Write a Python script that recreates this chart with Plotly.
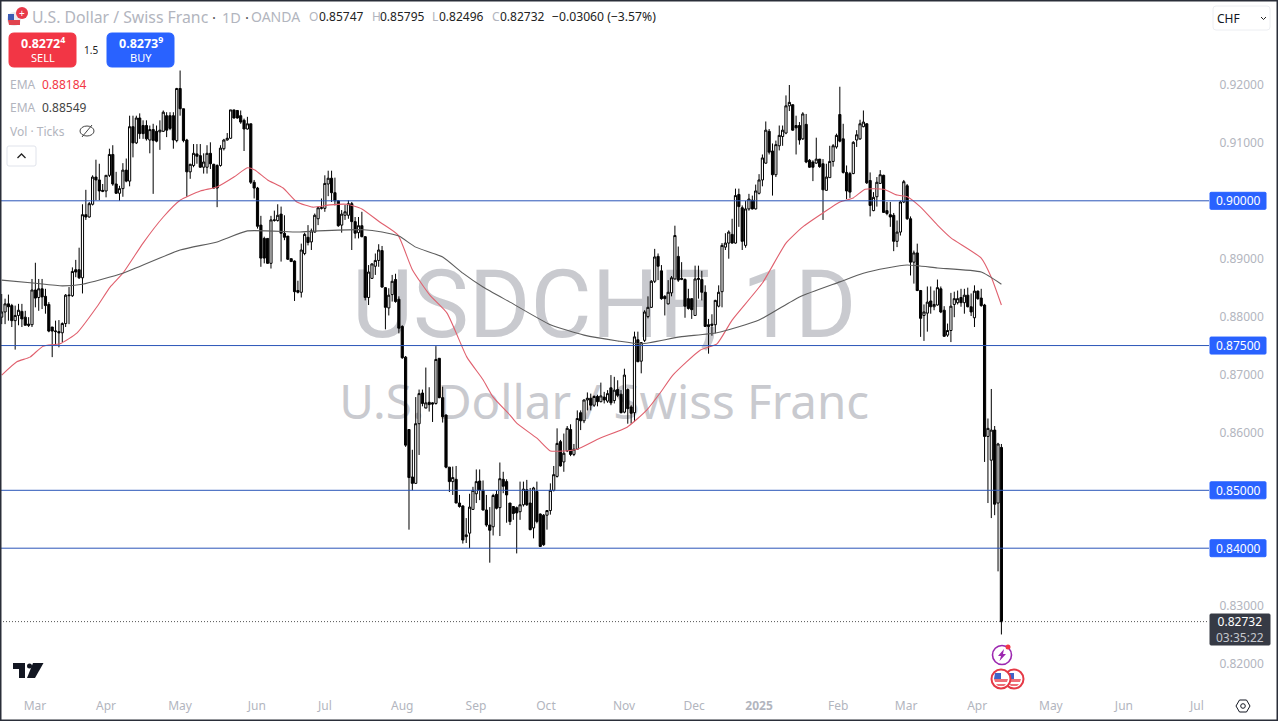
import plotly.graph_objects as go

# Daily candles, prices in pips (1/10000)
open_pips = [
8799,8808,8822,8819,8793,8802,8809,8799,8787,8786,
8846,8833,8848,8835,8821,8782,8774,8774,8772,8788,
8836,8836,8881,8881,8867,8976,8972,8994,9041,9036,
9016,9017,9044,9080,9029,9013,9021,9053,9034,9128,
9100,9143,9130,9130,9105,9123,9120,9119,9120,9147,
9147,9147,9104,9194,9159,9105,9050,9061,9081,9078,
9058,9058,9082,9063,9061,9061,9090,9105,9108,9157,
9156,9147,9139,9124,9133,9032,9022,8958,8935,8935,
8892,8966,8966,8977,8944,8939,8900,8896,8845,8842,
8909,8937,8929,8946,8969,8987,8987,9029,9039,9014,
9000,8958,8975,8975,8995,8964,8945,8957,8938,8833,
8866,8887,8897,8914,8850,8815,8838,8864,8830,8783,
8730,8605,8523,8512,8615,8668,8642,8652,8651,8650,
8728,8660,8630,8540,8515,8519,8478,8473,8420,8426,
8467,8494,8516,8500,8466,8440,8437,8493,8470,8519,
8515,8478,8472,8470,8463,8475,8501,8478,8435,8498,
8459,8457,8457,8465,8500,8524,8584,8549,8568,8605,
8562,8571,8634,8620,8656,8659,8647,8662,8653,8661,
8654,8677,8655,8674,8666,8635,8674,8644,8634,8760,
8723,8759,8800,8816,8861,8904,8879,8835,8822,8841,
8865,8904,8864,8864,8831,8831,8802,8864,8864,8842,
8786,8787,8786,8818,8843,8920,8927,8942,8927,9011,
8988,8923,8986,9001,8986,9013,9036,9065,9120,9086,
9045,9095,9111,9117,9164,9166,9130,9130,9107,9132,
9070,9067,9065,9072,9064,9018,9040,9068,9093,9149,
9107,9049,9047,9047,9105,9107,9128,9133,9035,8983,
9007,9030,9044,8983,8976,8975,8930,8946,8998,9026,
8969,8894,8910,8845,8802,8806,8827,8817,8820,8848,
8811,8768,8776,8821,8824,8833,8824,8837,8817,8798,
8844,8832,8820,8593,8552,8604,8478,8574]
close_pips = [
8808,8822,8817,8793,8802,8811,8796,8785,8785,8846,
8832,8848,8834,8819,8775,8775,8775,8772,8788,8837,
8837,8878,8877,8867,8976,8972,8995,9041,9036,9017,
9018,9044,9080,9029,9013,9021,9053,9034,9128,9100,
9143,9116,9116,9107,9123,9104,9103,9122,9153,9122,
9125,9105,9194,9159,9104,9050,9063,9082,9077,9058,
9067,9082,9064,9022,9022,9091,9105,9108,9157,9143,
9143,9136,9124,9133,9032,9022,8956,8901,8901,8892,
8967,8967,8975,8944,8937,8899,8895,8843,8842,8915,
8942,8928,8948,8975,8988,8988,9030,9039,9014,9000,
8957,8977,8981,8995,8964,8944,8957,8938,8833,8877,
8891,8897,8915,8851,8816,8837,8861,8826,8780,8729,
8578,8522,8512,8615,8667,8650,8651,8648,8649,8726,
8660,8627,8540,8515,8522,8478,8472,8414,8423,8471,
8500,8515,8500,8466,8440,8431,8491,8469,8520,8507,
8492,8446,8460,8461,8475,8502,8475,8432,8504,8446,
8403,8406,8465,8500,8527,8581,8542,8564,8607,8562,
8571,8624,8620,8656,8659,8647,8662,8653,8663,8656,
8667,8651,8673,8664,8634,8699,8641,8633,8765,8722,
8755,8808,8816,8861,8903,8887,8831,8831,8842,8867,
8940,8863,8866,8818,8814,8812,8865,8866,8842,8783,
8783,8785,8828,8842,8923,8927,8946,8927,9009,8990,
8930,8986,9003,8986,9017,9036,9074,9122,9084,9045,
9097,9113,9122,9164,9170,9122,9126,9105,9150,9067,
9058,9058,9072,9059,9019,9041,9068,9095,9113,9103,
9049,9017,9015,9101,9114,9133,9136,9031,8992,9006,
9032,9045,8980,8978,8972,8930,8946,8998,9033,8969,
8894,8910,8845,8797,8808,8825,8817,8821,8850,8808,
8766,8776,8818,8831,8831,8824,8837,8817,8808,8844,
8831,8819,8593,8607,8604,8476,8580,8273]
high_pips = [
8839,8831,8838,8822,8819,8822,8822,8810,8799,8865,
8893,8865,8865,8848,8825,8782,8793,8794,8790,8839,
8851,8885,8898,8919,8994,9019,8998,9044,9071,9064,
9029,9044,9090,9096,9050,9026,9065,9073,9147,9147,
9147,9151,9139,9139,9130,9133,9130,9139,9156,9153,
9153,9153,9195,9225,9159,9107,9064,9098,9098,9098,
9082,9096,9101,9064,9063,9096,9107,9117,9157,9157,
9156,9156,9142,9145,9133,9036,9024,8974,8938,8935,
8974,8983,8994,8990,8975,8939,8900,8897,8862,8926,
8945,8958,8952,8978,8990,9004,9044,9052,9052,9040,
9001,8984,8993,9001,8998,8972,8972,8981,8939,8889,
8892,8909,8925,8922,8851,8849,8872,8874,8835,8785,
8732,8605,8570,8661,8674,8674,8712,8678,8652,8749,
8728,8679,8631,8540,8541,8542,8492,8474,8452,8494,
8506,8536,8536,8517,8492,8471,8494,8500,8548,8532,
8519,8478,8472,8472,8515,8515,8518,8504,8506,8515,
8460,8459,8465,8512,8542,8607,8587,8598,8611,8614,
8580,8638,8638,8657,8669,8667,8664,8665,8686,8670,
8673,8699,8696,8690,8673,8710,8676,8647,8774,8774,
8756,8811,8835,8863,8917,8909,8889,8837,8863,8870,
8957,8921,8894,8866,8848,8831,8888,8888,8879,8854,
8796,8804,8829,8854,8927,8944,8949,8969,9021,9021,
8992,9000,9012,9009,9028,9046,9080,9137,9124,9099,
9104,9130,9130,9182,9200,9166,9147,9136,9153,9150,
9072,9070,9109,9072,9072,9064,9095,9098,9116,9197,
9133,9061,9050,9103,9122,9140,9156,9134,9049,9015,
9041,9053,9045,8998,8998,8979,8966,9000,9036,9029,
8973,8914,8926,8846,8821,8852,8852,8845,8864,8852,
8818,8788,8841,8843,8845,8848,8848,8850,8840,8854,
8845,8848,8822,8624,8675,8611,8582,8580]
low_pips = [
8787,8787,8793,8782,8743,8785,8782,8785,8782,8782,
8816,8810,8813,8805,8773,8730,8750,8747,8756,8782,
8787,8834,8868,8865,8840,8967,8971,8992,9001,9001,
9015,9006,9041,9026,9012,9000,9007,9032,9025,9075,
9098,9107,9107,9104,9082,9012,9101,9088,9119,9110,
9122,9090,9101,9147,9101,9007,9038,9058,9064,9057,
9047,9047,9055,9021,8989,9059,9087,9104,9107,9142,
9142,9133,9086,9123,9029,9004,8952,8886,8892,8891,
8883,8964,8964,8895,8932,8898,8895,8827,8840,8833,
8906,8923,8915,8945,8958,8985,8981,9008,8998,8992,
8955,8945,8967,8969,8915,8935,8935,8937,8828,8820,
8865,8872,8886,8850,8778,8802,8826,8824,8771,8727,
8575,8432,8500,8511,8561,8645,8643,8636,8618,8648,
8659,8617,8538,8497,8492,8478,8470,8408,8409,8400,
8466,8478,8483,8465,8437,8375,8422,8467,8421,8495,
8444,8440,8449,8391,8449,8472,8473,8431,8417,8443,
8402,8404,8432,8458,8498,8522,8541,8532,8566,8559,
8559,8570,8604,8616,8638,8638,8644,8645,8652,8650,
8651,8647,8650,8661,8633,8633,8615,8615,8618,8722,
8702,8756,8797,8815,8858,8863,8829,8802,8821,8835,
8864,8860,8863,8798,8812,8796,8802,8831,8828,8782,
8736,8767,8771,8816,8816,8915,8900,8926,8926,8955,
8915,8919,8983,8985,8985,9011,9025,9064,9080,9009,
9041,9087,9095,9115,9155,9121,9080,9097,9105,9065,
9057,9034,9064,9057,8967,9018,9040,9059,9090,9101,
9047,9003,9005,9046,9093,9105,9127,9029,8973,8982,
8990,9029,8979,8975,8955,8913,8920,8940,8996,8967,
8871,8857,8844,8765,8758,8774,8805,8811,8819,8806,
8765,8765,8756,8799,8821,8817,8805,8816,8801,8782,
8829,8817,8549,8478,8452,8457,8360,8251]

ema_fast_bars = [0,4.5,8.4,12.3,17.3,22.4,28.3,32.2,36,42,48,53,59,64,69,73,75.2,79,83.6,87.7,92.5,97.5,102.6,107,112.4,117.7,122,127.2,132.3,138.2,143,146,151,153,159,163,167,171,177.7,185.8,191.7,195.6,199.4,207.5,212.5,217,226,233,238,244,249,253,256.5,262,266,269,273,278,282,291,294,297]
ema_fast_pips = [8699,8722,8730,8749,8753,8772,8817,8851,8875,8927,8972,9001,9017,9024,9041,9057,9053,9036,9022,8998,8989,8993,8994,8986,8963,8941,8881,8837,8806,8730,8691,8661,8630,8616,8590,8568,8568,8571,8590,8609,8639,8668,8699,8742,8753,8794,8858,8927,8955,8979,8998,9005,9020,9020,9010,9007,8989,8958,8936,8901,8868,8820]
ema_slow_bars = [0,9.3,18,24,36,53,64,73,88,94,107.5,113,118,123,131,137,143,151,163,173,183,190,201.5,212.5,225,237,249,256,263,269,278,291,297]
ema_slow_pips = [8863,8858,8853,8856,8875,8915,8929,8948,8946,8948,8950,8946,8939,8920,8903,8875,8851,8825,8786,8768,8758,8753,8765,8772,8794,8834,8860,8875,8884,8889,8884,8877,8856]

price_ticks = [0.82,0.83,0.86,0.87,0.88,0.89,0.91,0.92]
level_lines = [0.90,0.875,0.85,0.84]
last_price = 0.82732
month_bars = [9.9,31,53,75.8,96,119,140.9,161.7,184.9,205.7,225,248.5,268.7,289.8,311.7,333.4,355.1]
month_labels = ["Mar","Apr","May","Jun","Jul","Aug","Sep","Oct","Nov","Dec","<b>2025</b>","Feb","Mar","Apr","May","Jun","Jul"]

assert len(open_pips) == len(close_pips) == len(high_pips) == len(low_pips) == 298, (len(open_pips), len(close_pips), len(high_pips), len(low_pips))

PW, PH = 1209, 692
X = lambda px: px / PW
Y = lambda py: 1 - py / PH
bars = list(range(len(open_pips)))
xr = [(0 - 1.7) / 3.366, (PW - 1.7) / 3.366]
yr = [0.82 - (PH - 664) * 0.00017271, 0.92 + 85 * 0.00017271]
FONT = "Noto Sans"
GREY = "#b2b5be"
BLUE = "#2962ff"
RED = "#f23645"

def p(v):
    return [a / 10000 for a in v]

fig = go.Figure()
# Watermark on the base axes, below the candles
fig.add_trace(go.Scatter(x=[179, 179], y=[0.8806, 0.8644], mode="text",
    text=["USDCHF, 1D", "U.S. Dollar / Swiss Franc"], textposition="middle center",
    textfont=dict(family=["Roboto", FONT], size=[94, 47.5], color="#c9cacf"),
    xaxis="x2", yaxis="y2", hoverinfo="skip", showlegend=False))
fig.add_trace(go.Candlestick(x=bars, open=p(open_pips), high=p(high_pips), low=p(low_pips), close=p(close_pips),
    increasing=dict(line=dict(color="#000000", width=1), fillcolor="#ffffff"),
    decreasing=dict(line=dict(color="#000000", width=1), fillcolor="#000000"),
    whiskerwidth=0, hoverinfo="skip", showlegend=False))
fig.add_trace(go.Scatter(x=ema_fast_bars, y=p(ema_fast_pips), mode="lines",
    line=dict(color="#e0606e", width=1.1, shape="spline", smoothing=0.5), hoverinfo="skip", showlegend=False))
fig.add_trace(go.Scatter(x=ema_slow_bars, y=p(ema_slow_pips), mode="lines",
    line=dict(color="#5d5d5d", width=1.1, shape="spline", smoothing=0.5), hoverinfo="skip", showlegend=False))

shapes, ann = [], []

def text(x, y, s, size=12, color="#000000", anchor="left", family=FONT):
    # annotations carry about 2px of inner padding on their anchored side
    ann.append(dict(x=X(x - 2 if anchor == "left" else x), y=Y(y), xref="paper", yref="paper", text=s, showarrow=False,
                    xanchor=anchor, yanchor="middle", align=anchor,
                    font=dict(family=family, size=size, color=color)))

def rrect(x0, y0, x1, y1, r, fill, line=None):
    d = (f"M{X(x0+r)},{Y(y0)} L{X(x1-r)},{Y(y0)} Q{X(x1)},{Y(y0)} {X(x1)},{Y(y0+r)} "
         f"L{X(x1)},{Y(y1-r)} Q{X(x1)},{Y(y1)} {X(x1-r)},{Y(y1)} L{X(x0+r)},{Y(y1)} "
         f"Q{X(x0)},{Y(y1)} {X(x0)},{Y(y1-r)} L{X(x0)},{Y(y0+r)} Q{X(x0)},{Y(y0)} {X(x0+r)},{Y(y0)} Z")
    shapes.append(dict(type="path", path=d, xref="paper", yref="paper", fillcolor=fill,
                       line=dict(color=line or fill, width=1)))

def circle(cx, cy, r, fill="rgba(0,0,0,0)", line=None, width=1.5):
    shapes.append(dict(type="circle", xref="paper", yref="paper", x0=X(cx-r), x1=X(cx+r), y0=Y(cy+r), y1=Y(cy-r),
                       fillcolor=fill, line=dict(color=line or fill, width=width)))

def poly(pts, fill, line=None, width=0):
    d = "M" + " L".join(f"{X(a)},{Y(b)}" for a, b in pts) + " Z"
    shapes.append(dict(type="path", path=d, xref="paper", yref="paper", fillcolor=fill,
                       line=dict(color=line or fill, width=width)))

# Horizontal levels
for lv in level_lines:
    shapes.append(dict(type="line", xref="paper", yref="y", x0=0, x1=1, y0=lv, y1=lv, line=dict(color="#2a55b8", width=1)))
    yy = 85 + (0.92 - lv) / 0.00017271
    rrect(1210, yy - 8.5, 1266, yy + 8.5, 1, BLUE)
    text(1238.5, yy, f"{lv:.5f}", 12, "#ffffff", "center")
shapes.append(dict(type="line", xref="paper", yref="y", x0=0, x1=1, y0=last_price, y1=last_price,
                   line=dict(color="#555555", width=1, dash="1px,2px")))

# Last price badge
rrect(1210, 614, 1270, 645, 1, "#363a45")
text(1240, 629.5, f"{last_price:.5f}<br><span style='color:#c4c6cc'>03:35:22</span>", 12, "#ffffff", "center")

# Header
circle(14, 19, 7, "#e9e9ee", "#e9e9ee", 0)
poly([(8, 20), (20, 20), (20, 25), (9, 25)], "#e0444f")
poly([(8, 14), (14, 14), (14, 20), (8, 20)], "#3b5bb5")
circle(22, 13, 6, "#e8394a", "#e8394a", 0)
text(22, 13, "+", 10, "#ffffff", "center")
text(32, 17, "U.S. Dollar / Swiss Franc", 15.8, GREY)
text(212, 17, "·", 15, "#555555")
text(222, 17, "1D", 14.5, GREY)
text(245, 17, "·", 15, "#555555")
text(251, 17, "OANDA", 14, GREY)
for lx, lab, vx, val in [(309, "O", 319, "0.85747"), (372, "H", 380, "0.85795"), (432, "L", 439, "0.82496"), (492, "C", 500, "0.82732")]:
    text(lx, 17, lab, 12, GREY)
    text(vx, 17, val, 12, "#222222")
text(552, 17, "−0.03060 (−3.57%)", 12.2, "#222222")

# Buy / sell
rrect(9, 33, 76, 67, 5, RED)
text(42.5, 43, "<b>0.8272<sup>4</sup></b>", 12.5, "#ffffff", "center")
text(42.5, 58, "SELL", 11, "#ffffff", "center")
text(91, 50, "1.5", 10, "#222222", "center")
rrect(107, 33, 174, 67, 5, BLUE)
text(140.5, 43, "<b>0.8273<sup>9</sup></b>", 12.5, "#ffffff", "center")
text(140.5, 58, "BUY", 11, "#ffffff", "center")

# Indicator legend
text(10, 84, "EMA", 12, GREY)
text(42, 84, "0.88184", 12, RED)
text(10, 107, "EMA", 12, GREY)
text(42, 107, "0.88549", 12, "#444444")
text(10, 131, "Vol · Ticks", 12, GREY)
shapes.append(dict(type="circle", xref="paper", yref="paper", x0=X(80), x1=X(94), y0=Y(136), y1=Y(126),
                   fillcolor="rgba(0,0,0,0)", line=dict(color="#444444", width=1)))
shapes.append(dict(type="line", xref="paper", yref="paper", x0=X(82), x1=X(92), y0=Y(137), y1=Y(125), line=dict(color="#444444", width=1)))
rrect(7, 146, 36, 166, 2, "#ffffff", "#e0e3eb")
shapes.append(dict(type="path", xref="paper", yref="paper",
                   path=f"M{X(17.5)},{Y(158)} L{X(21.5)},{Y(154)} L{X(25.5)},{Y(158)}", line=dict(color="#222222", width=1.3)))

# Currency selector
rrect(1213, 6, 1270, 30, 3, "#ffffff", "#eceef2")
text(1217, 18, "CHF", 12, "#131722")
shapes.append(dict(type="path", xref="paper", yref="paper",
                   path=f"M{X(1261)},{Y(17)} L{X(1263.5)},{Y(19.5)} L{X(1266)},{Y(17)}", line=dict(color="#222222", width=1)))

# TradingView logo
poly([(13, 663), (25, 663), (25, 678), (19, 678), (19, 669), (13, 669)], "#131722")
circle(29.5, 666, 2.5, "#131722", "#131722", 0)
poly([(33, 663), (43.5, 663), (35, 678), (27, 678)], "#131722")

# Event icons
circle(1002, 655, 9.5, "rgba(0,0,0,0)", "#9c27b0", 1.6)
poly([(1004, 649), (998, 656), (1001, 656), (999.5, 661), (1006, 654), (1003, 654)], "#9c27b0")
circle(1008, 647, 2.5, RED, RED, 0)
for cx in (1014, 1001):
    circle(cx, 679, 9.5, "#ffffff", "#e53946", 2)
    poly([(cx-7, 679), (cx+7, 679), (cx+6, 682), (cx-6, 682)], "#ef6e78")
    poly([(cx-5, 684), (cx+5, 684), (cx+3, 686), (cx-3, 686)], "#ef6e78")
    poly([(cx-6, 673), (cx, 673), (cx, 679), (cx-7, 679)], "#3f63c8")

# Settings icon
poly([(1236, 706), (1239.5, 700), (1246.5, 700), (1250, 706), (1246.5, 712), (1239.5, 712)], "#ffffff", "#131722", 1)
circle(1243, 706, 2.3, "#ffffff", "#131722", 1)

# Outer frame
shapes.append(dict(type="rect", xref="paper", yref="paper", x0=0, x1=1278/PW, y0=Y(721), y1=1,
                   fillcolor="rgba(0,0,0,0)", line=dict(color="#2a2e39", width=3)))

fig.update_layout(
    width=1278, height=721, autosize=False,
    margin=dict(l=0, r=1278 - PW, t=0, b=721 - PH, pad=0),
    paper_bgcolor="#ffffff", plot_bgcolor="rgba(0,0,0,0)", boxgap=0.08,
    showlegend=False, shapes=shapes, annotations=ann, hovermode=False,
    font=dict(family=FONT),
    xaxis=dict(overlaying="x2", range=xr, rangeslider=dict(visible=False), showgrid=False, zeroline=False, showline=False,
               tickmode="array", tickvals=month_bars, ticktext=month_labels,
               tickfont=dict(family=FONT, size=12, color=GREY), ticks="outside", ticklen=3, tickcolor="rgba(0,0,0,0)"),
    yaxis=dict(overlaying="y2", side="right", range=yr, showgrid=False, zeroline=False, showline=False,
               tickmode="array", tickvals=price_ticks, ticktext=[f"{v:.5f}" for v in price_ticks],
               tickfont=dict(family=FONT, size=12, color=GREY), ticks="outside", ticklen=7, tickcolor="rgba(0,0,0,0)"),
    xaxis2=dict(range=xr, visible=False, anchor="y2"),
    yaxis2=dict(range=yr, visible=False, anchor="x2"),
)

fig.write_html("out.html", config=dict(displayModeBar=False, responsive=False),
               post_script="document.body.style.margin='0';document.body.style.overflow='hidden';")
